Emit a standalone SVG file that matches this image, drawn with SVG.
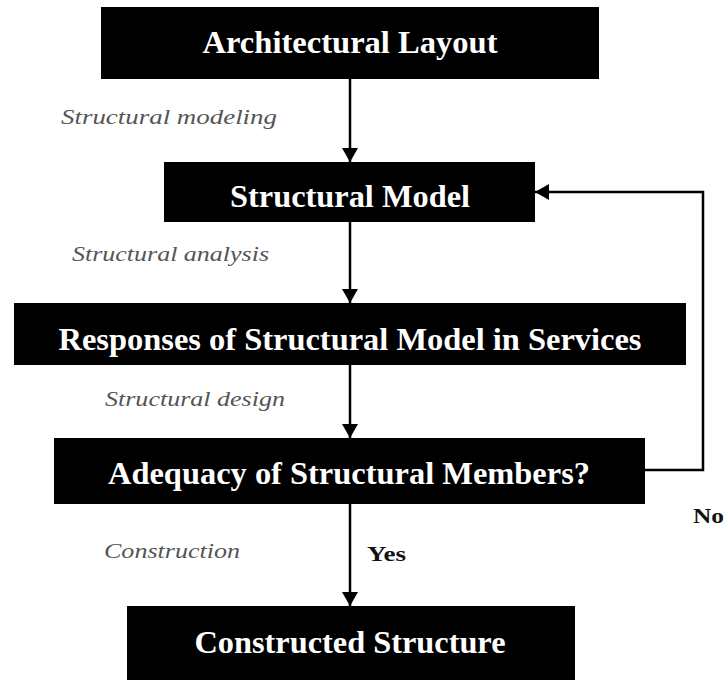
<svg xmlns="http://www.w3.org/2000/svg" width="724" height="684" viewBox="0 0 724 684">
<defs>
<marker id="ah" viewBox="0 0 14 16" refX="14" refY="8" markerWidth="14" markerHeight="16" markerUnits="userSpaceOnUse" orient="auto">
<path d="M0,0 L14,8 L0,16 Z" fill="#000"/>
</marker>
<style>
.box{fill:#000}
.t{font-weight:bold;font-size:31px;fill:#fff;text-anchor:middle}
.lbl{font-style:italic;font-size:21px;fill:#555}
.bl{font-weight:bold;font-size:21px;fill:#111}
.c{fill:none;stroke:#000;stroke-width:2.5}
</style>
</defs>
<rect width="724" height="684" fill="#fff"/>
<g id="connectors" font-family="Liberation Serif, Times New Roman, serif">
<line class="c" x1="350" y1="79" x2="350" y2="162" marker-end="url(#ah)"/>
<line class="c" x1="350" y1="222" x2="350" y2="303" marker-end="url(#ah)"/>
<line class="c" x1="350" y1="365" x2="350" y2="438" marker-end="url(#ah)"/>
<line class="c" x1="350" y1="504" x2="350" y2="606" marker-end="url(#ah)"/>
<polyline class="c" points="645,470 703,470 703,192 535,192" marker-end="url(#ah)"/>
<text class="lbl" x="61" y="124" textLength="216" lengthAdjust="spacingAndGlyphs">Structural  modeling</text>
<text class="lbl" x="72" y="261" textLength="197" lengthAdjust="spacingAndGlyphs">Structural analysis</text>
<text class="lbl" x="105" y="406" textLength="180" lengthAdjust="spacingAndGlyphs">Structural design</text>
<text class="lbl" x="104" y="558" textLength="136" lengthAdjust="spacingAndGlyphs">Construction</text>
<text class="bl" x="367" y="561" textLength="39" lengthAdjust="spacingAndGlyphs">Yes</text>
<text class="bl" x="693" y="523" textLength="31" lengthAdjust="spacingAndGlyphs">No</text>
</g>
<g id="node-architectural-layout" font-family="Liberation Serif, Times New Roman, serif">
<rect class="box" x="101" y="7" width="498" height="72"/>
<text class="t" x="350" y="53" textLength="295" lengthAdjust="spacingAndGlyphs">Architectural Layout</text>
</g>
<g id="node-structural-model" font-family="Liberation Serif, Times New Roman, serif">
<rect class="box" x="164" y="162" width="371" height="60"/>
<text class="t" x="350" y="207" textLength="240" lengthAdjust="spacingAndGlyphs">Structural Model</text>
</g>
<g id="node-responses" font-family="Liberation Serif, Times New Roman, serif">
<rect class="box" x="14" y="303" width="672" height="62"/>
<text class="t" x="350" y="350" textLength="583" lengthAdjust="spacingAndGlyphs">Responses of Structural Model in Services</text>
</g>
<g id="node-adequacy" font-family="Liberation Serif, Times New Roman, serif">
<rect class="box" x="54" y="438" width="591" height="66"/>
<text class="t" x="349" y="484" textLength="482" lengthAdjust="spacingAndGlyphs">Adequacy of Structural Members?</text>
</g>
<g id="node-constructed" font-family="Liberation Serif, Times New Roman, serif">
<rect class="box" x="127" y="606" width="448" height="74"/>
<text class="t" x="350" y="653" textLength="311" lengthAdjust="spacingAndGlyphs">Constructed Structure</text>
</g>
</svg>
